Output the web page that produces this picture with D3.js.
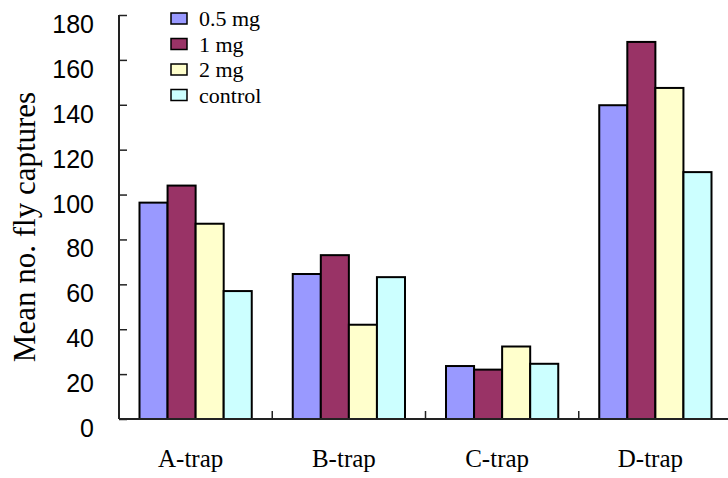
<!DOCTYPE html>
<html>
<head>
<meta charset="utf-8">
<script src="https://cdn.jsdelivr.net/npm/d3@7"></script>
<style>
  body { margin: 0; background: #fff; }
</style>
</head>
<body>
<svg id="chart"></svg>
<script>
// data
const categories = ["A-trap", "B-trap", "C-trap", "D-trap"];
const seriesNames = ["0.5 mg", "1 mg", "2 mg", "control"];
const values05 = [96.4, 64.6, 23.6, 139.8];
const values1 = [104, 73, 22, 168];
const values2 = [87, 42, 32.3, 147.5];
const valuesControl = [57, 63.2, 24.6, 110];
const yTicks = [0, 20, 40, 60, 80, 100, 120, 140, 160, 180];
const colors = ["#9999ff", "#993366", "#ffffcc", "#ccffff"];

const width = 728, height = 478;
const mLeft = 119, mTop = 15, mBottom = 419, mRight = 732;
const serif = "'Liberation Serif', 'Times New Roman', serif";
const sans = "'Liberation Sans', Arial, sans-serif";

const svg = d3.select("#chart")
  .attr("width", width)
  .attr("height", height);

const rows = categories.map((c, i) => ({
  cat: c,
  vals: [values05[i], values1[i], values2[i], valuesControl[i]]
}));

// scales
const x = d3.scaleBand()
  .domain(categories)
  .range([mLeft, mRight])
  .paddingInner(0)
  .paddingOuter(0);

const xInner = d3.scaleBand()
  .domain(seriesNames)
  .range([20.5, x.bandwidth() - 20.5]);

const y = d3.scaleLinear()
  .domain([0, 180])
  .range([mBottom, mTop]);

// bars
const groups = svg.selectAll("g.grp")
  .data(rows)
  .enter()
  .append("g")
  .attr("class", "grp")
  .attr("transform", d => `translate(${x(d.cat)},0)`);

groups.selectAll("rect")
  .data(d => d.vals.map((v, i) => ({ name: seriesNames[i], v: v, i: i })))
  .enter()
  .append("rect")
    .attr("x", d => xInner(d.name))
    .attr("y", d => y(d.v))
    .attr("width", xInner.bandwidth())
    .attr("height", d => y(0) - y(d.v))
    .attr("fill", d => colors[d.i])
    .attr("stroke", "#000")
    .attr("stroke-width", 2);

// y axis, ticks pointing inward
const yAxis = d3.axisRight(y)
  .tickValues(yTicks)
  .tickSize(8)
  .tickFormat("");

svg.append("g")
  .attr("transform", `translate(${mLeft},0)`)
  .call(yAxis)
  .call(g => g.select(".domain").remove())
  .call(g => g.selectAll("line").attr("stroke", "#222").attr("stroke-width", 1.5));

svg.append("line")
  .attr("x1", mLeft).attr("x2", mLeft)
  .attr("y1", y(180)).attr("y2", y(0))
  .attr("stroke", "#222")
  .attr("stroke-width", 2);

svg.selectAll("text.ylab")
  .data(yTicks)
  .enter()
  .append("text")
    .attr("class", "ylab")
    .attr("x", 94)
    .attr("y", d => y(d) + 18)
    .attr("text-anchor", "end")
    .style("font-family", sans)
    .style("font-size", "25px")
    .text(d => d);

// x axis line and category separators
svg.append("line")
  .attr("x1", mLeft).attr("x2", width)
  .attr("y1", y(0)).attr("y2", y(0))
  .attr("stroke", "#222")
  .attr("stroke-width", 2);

svg.selectAll("line.sep")
  .data(categories.slice(1))
  .enter()
  .append("line")
    .attr("class", "sep")
    .attr("x1", d => x(d)).attr("x2", d => x(d))
    .attr("y1", y(0)).attr("y2", y(0) - 8)
    .attr("stroke", "#222")
    .attr("stroke-width", 1.5);

svg.selectAll("text.xlab")
  .data(categories)
  .enter()
  .append("text")
    .attr("class", "xlab")
    .attr("x", d => x(d) + x.bandwidth() / 2 - 5)
    .attr("y", 467)
    .attr("text-anchor", "middle")
    .style("font-family", serif)
    .style("font-size", "25px")
    .text(d => d);

// y title
svg.append("text")
  .attr("transform", "translate(35,227) rotate(-90)")
  .attr("text-anchor", "middle")
  .style("font-family", serif)
  .style("font-size", "31px")
  .text("Mean no. fly captures");

// legend
const legend = svg.append("g").attr("transform", "translate(171,13)");
const li = legend.selectAll("g")
  .data(seriesNames)
  .enter()
  .append("g")
  .attr("transform", (d, i) => `translate(0,${i * 25.5})`);

li.append("rect")
  .attr("width", 16)
  .attr("height", 11)
  .attr("fill", (d, i) => colors[i])
  .attr("stroke", "#000")
  .attr("stroke-width", 1.5);

li.append("text")
  .attr("x", 28)
  .attr("y", 13)
  .style("font-family", serif)
  .style("font-size", "22px")
  .text(d => d);
</script>
</body>
</html>
